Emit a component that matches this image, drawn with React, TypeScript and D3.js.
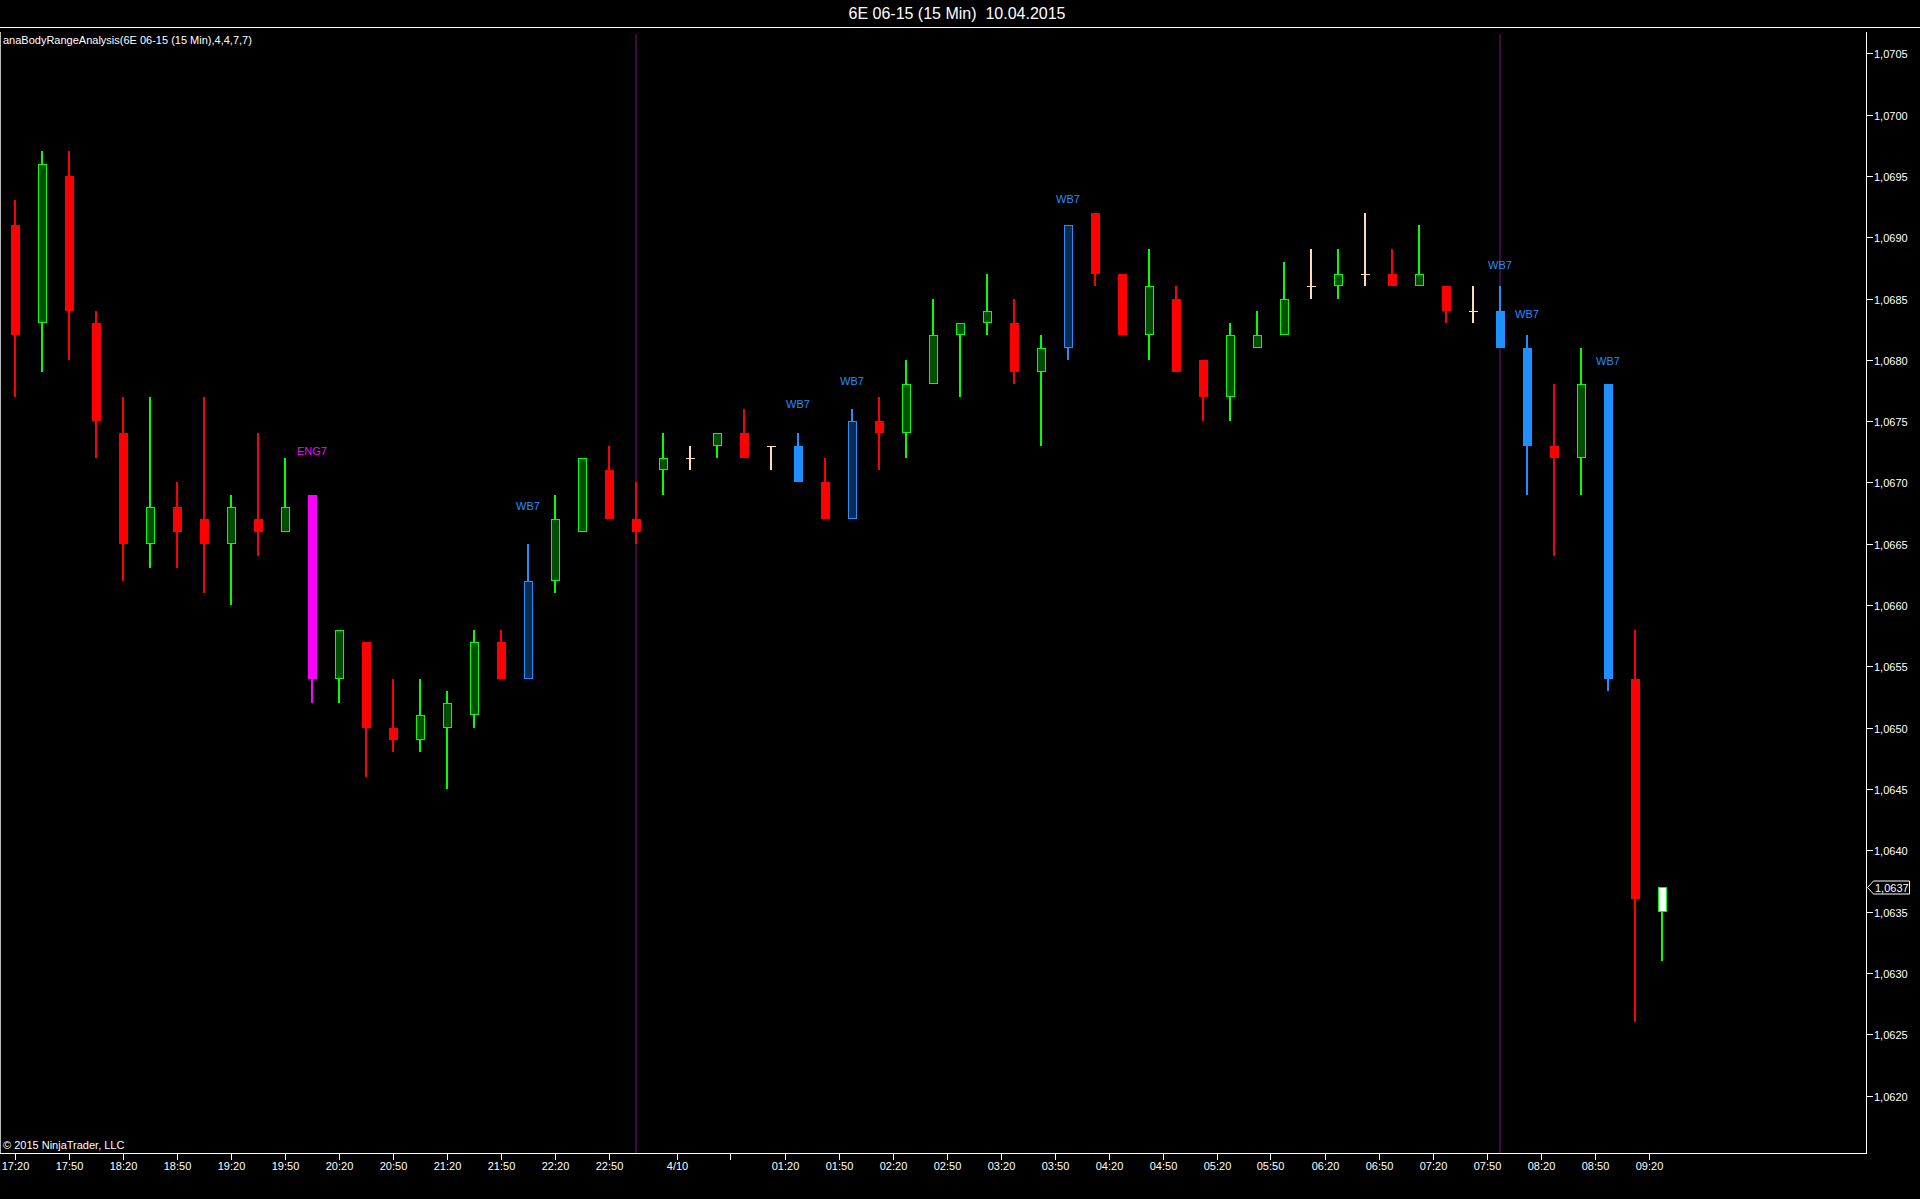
import React from 'react';
import * as d3 from 'd3';

// ---- data ----
const opens = [
  1.0691, 1.0683, 1.0695, 1.0683, 1.0674, 1.0665, 1.0668, 1.0667, 1.0665, 1.0667,
  1.0666, 1.0669, 1.0654, 1.0657, 1.0650, 1.0649, 1.0650, 1.0651, 1.0657, 1.0654,
  1.0662, 1.0666, 1.0671, 1.0667, 1.0671, 1.0672, 1.0673, 1.0674, 1.0673, 1.0673,
  1.0670, 1.0667, 1.0675, 1.0674, 1.0678, 1.0682, 1.0683, 1.0683, 1.0679, 1.0681,
  1.0692, 1.0687, 1.0682, 1.0685, 1.0680, 1.0677, 1.0681, 1.0682, 1.0686, 1.0686,
  1.0687, 1.0687, 1.0686, 1.0686, 1.0684, 1.0684, 1.0681, 1.0673, 1.0672, 1.0678,
  1.0654, 1.0635,
];
const highs = [
  1.0693, 1.0697, 1.0697, 1.0684, 1.0677, 1.0677, 1.0670, 1.0677, 1.0669, 1.0674,
  1.0672, 1.0669, 1.0658, 1.0657, 1.0654, 1.0654, 1.0653, 1.0658, 1.0658, 1.0665,
  1.0669, 1.0672, 1.0673, 1.0670, 1.0674, 1.0673, 1.0674, 1.0676, 1.0673, 1.0674,
  1.0672, 1.0676, 1.0677, 1.0680, 1.0685, 1.0683, 1.0687, 1.0685, 1.0682, 1.0691,
  1.0692, 1.0687, 1.0689, 1.0686, 1.0680, 1.0683, 1.0684, 1.0688, 1.0689, 1.0689,
  1.0692, 1.0689, 1.0691, 1.0686, 1.0686, 1.0686, 1.0682, 1.0678, 1.0681, 1.0678,
  1.0658, 1.0637,
];
const lows = [
  1.0677, 1.0679, 1.0680, 1.0672, 1.0662, 1.0663, 1.0663, 1.0661, 1.0660, 1.0664,
  1.0666, 1.0652, 1.0652, 1.0646, 1.0648, 1.0648, 1.0645, 1.0650, 1.0654, 1.0654,
  1.0661, 1.0666, 1.0667, 1.0665, 1.0669, 1.0671, 1.0672, 1.0672, 1.0671, 1.0670,
  1.0667, 1.0667, 1.0671, 1.0672, 1.0678, 1.0677, 1.0682, 1.0678, 1.0673, 1.0680,
  1.0686, 1.0682, 1.0680, 1.0679, 1.0675, 1.0675, 1.0681, 1.0682, 1.0685, 1.0685,
  1.0686, 1.0686, 1.0686, 1.0683, 1.0683, 1.0681, 1.0669, 1.0664, 1.0669, 1.0653,
  1.0626, 1.0631,
];
const closes = [
  1.0682, 1.0696, 1.0684, 1.0675, 1.0665, 1.0668, 1.0666, 1.0665, 1.0668, 1.0666,
  1.0668, 1.0654, 1.0658, 1.0650, 1.0649, 1.0651, 1.0652, 1.0657, 1.0654, 1.0662,
  1.0667, 1.0672, 1.0667, 1.0666, 1.0672, 1.0672, 1.0674, 1.0672, 1.0673, 1.0670,
  1.0667, 1.0675, 1.0674, 1.0678, 1.0682, 1.0683, 1.0684, 1.0679, 1.0681, 1.0691,
  1.0687, 1.0682, 1.0686, 1.0679, 1.0677, 1.0682, 1.0682, 1.0685, 1.0686, 1.0687,
  1.0687, 1.0686, 1.0687, 1.0684, 1.0684, 1.0681, 1.0673, 1.0672, 1.0678, 1.0654,
  1.0636, 1.0637,
];

const wbBars = [19, 29, 31, 39, 55, 56, 59];
const engBars = [11];
const sessionBreakBars = [23, 55];

const signalBars = [11, 19, 29, 31, 39, 55, 56, 59];
const signalTexts = ['ENG7', 'WB7', 'WB7', 'WB7', 'WB7', 'WB7', 'WB7', 'WB7'];
const signalPrices = [1.06726, 1.06681, 1.06764, 1.06783, 1.06931, 1.06877, 1.06837, 1.06799];

const xTickLabels = [
  '17:20', '17:50', '18:20', '18:50', '19:20', '19:50', '20:20', '20:50', '21:20', '21:50', '22:20', '22:50',
  '4/10', '',
  '01:20', '01:50', '02:20', '02:50', '03:20', '03:50', '04:20', '04:50', '05:20', '05:50',
  '06:20', '06:50', '07:20', '07:50', '08:20', '08:50', '09:20',
];
const xTickBars = [
  0, 2, 4, 6, 8, 10, 12, 14, 16, 18, 20, 22,
  24.5, 26.5,
  28.5, 30.5, 32.5, 34.5, 36.5, 38.5, 40.5, 42.5, 44.5, 46.5,
  48.5, 50.5, 52.5, 54.5, 56.5, 58.5, 60.5,
];
const yTickValues = d3.range(0, 18).map((k) => +(1.062 + k * 0.0005).toFixed(4));
const lastPrice = 1.0637;

const title = '6E 06-15 (15 Min)  10.04.2015';
const indicatorLabel = 'anaBodyRangeAnalysis(6E 06-15 (15 Min),4,4,7,7)';
const copyright = '\u00A9 2015 NinjaTrader, LLC';

// ---- layout ----
const W = 1920;
const H = 1199;
const axisX = 1866;
const bottomY = 1153;
const plotTop = 32;
const FONT = '"Liberation Sans", Arial, sans-serif';

const COL = {
  upFill: '#004f00',
  up: '#00ff00',
  down: '#ff0000',
  doji: '#ffdcb8',
  wb: '#1e90ff',
  wbHollow: '#0b2b4f',
  eng: '#ff00ff',
  session: '#3e0a3e',
};

export default function App() {
  const x = d3.scaleLinear().domain([0, 61]).range([15, 1662]);
  const y = d3.scaleLinear().domain([1.062, 1.0705]).range([1095.6, 53.3]);
  const fmt = (v: number) => d3.format('.4f')(v).replace('.', ',');

  const candles = opens.map((o, i) => {
    const c = closes[i];
    const h = highs[i];
    const l = lows[i];
    const xc = Math.round(x(i));
    const up = c > o;
    const isDoji = c === o;
    const isWB = wbBars.includes(i);
    const isEng = engBars.includes(i);
    const isLast = i === opens.length - 1;
    let wickColor = up ? COL.up : COL.down;
    let fill = up ? COL.upFill : COL.down;
    let stroke: string | null = up ? COL.up : null;
    if (isDoji) {
      wickColor = COL.doji;
    }
    if (isWB) {
      wickColor = COL.wb;
      fill = up ? COL.wbHollow : COL.wb;
      stroke = up ? COL.wb : null;
    }
    if (isEng) {
      wickColor = COL.eng;
      fill = COL.eng;
      stroke = null;
    }
    if (isLast) {
      fill = '#ffffff';
      stroke = COL.up;
      wickColor = COL.up;
    }
    const yTop = Math.round(y(Math.max(o, c)));
    const yBot = Math.round(y(Math.min(o, c)));
    const yH = Math.round(y(h));
    const yL = Math.round(y(l));
    return (
      <g key={i}>
        <rect x={xc - 1} y={yH} width={2} height={Math.max(1, yL - yH)} fill={wickColor} />
        {isDoji ? (
          <rect x={xc - 4} y={yTop} width={9} height={1} fill={COL.doji} />
        ) : stroke ? (
          <rect
            x={xc - 4 + 0.5}
            y={yTop + 0.5}
            width={8}
            height={Math.max(1, yBot - yTop - 1)}
            fill={fill}
            stroke={stroke}
            strokeWidth={1}
          />
        ) : (
          <rect x={xc - 4} y={yTop} width={9} height={Math.max(1, yBot - yTop)} fill={fill} />
        )}
      </g>
    );
  });

  const markerY = Math.round(y(lastPrice)) + 0.5;

  return (
    <div style={{ position: 'absolute', left: 0, top: 0, width: W, height: H, background: '#000' }}>
      <svg width={W} height={H} style={{ display: 'block' }} fontFamily={FONT}>
        <rect x={0} y={0} width={W} height={H} fill="#000" />
        {/* title */}
        <text x={957} y={19} fill="#fff" fontSize={16} textAnchor="middle" style={{ whiteSpace: 'pre' }}>
          {title}
        </text>
        <line x1={0} x2={W} y1={27.5} y2={27.5} stroke="#fff" strokeWidth={1} />

        {/* session breaks */}
        {sessionBreakBars.map((b) => (
          <rect key={b} x={Math.round(x(b)) - 1} y={34} width={2} height={bottomY - 34} fill={COL.session} />
        ))}

        {/* frame */}
        <line x1={0.5} x2={0.5} y1={plotTop} y2={bottomY} stroke="#bbb" strokeWidth={1} />
        <line x1={axisX + 0.5} x2={axisX + 0.5} y1={plotTop} y2={bottomY + 0.5} stroke="#fff" strokeWidth={1} />
        <line x1={0} x2={axisX + 1} y1={bottomY + 0.5} y2={bottomY + 0.5} stroke="#fff" strokeWidth={1} />

        {/* indicator label */}
        <text x={3} y={44} fill="#fff" fontSize={11}>
          {indicatorLabel}
        </text>

        {/* candles */}
        {candles}

        {/* signal labels */}
        {signalBars.map((b, k) => (
          <text
            key={'s' + k}
            x={x(b)}
            y={y(signalPrices[k]) + 4}
            fill={signalTexts[k] === 'ENG7' ? COL.eng : COL.wb}
            fontSize={11}
            textAnchor="middle"
          >
            {signalTexts[k]}
          </text>
        ))}

        {/* y axis */}
        {yTickValues.map((v) => {
          const yy = Math.round(y(v)) + 0.5;
          return (
            <g key={'y' + v}>
              <line x1={axisX + 1} x2={axisX + 7} y1={yy} y2={yy} stroke="#fff" strokeWidth={1} />
              <text x={axisX + 8} y={yy + 4} fill="#fff" fontSize={11}>
                {fmt(v)}
              </text>
            </g>
          );
        })}

        {/* last price marker */}
        <path
          d={`M${axisX + 7.5},${markerY - 6.5} L${axisX + 1.5},${markerY} L${axisX + 7.5},${markerY + 6.5} L${axisX + 43.5},${markerY + 6.5} L${axisX + 43.5},${markerY - 6.5} Z`}
          fill="#000"
          stroke="#fff"
          strokeWidth={1}
        />
        <text x={axisX + 9} y={markerY + 4} fill="#fff" fontSize={11}>
          {fmt(lastPrice)}
        </text>

        {/* x axis */}
        {xTickBars.map((b, k) => {
          const xx = Math.round(x(b)) + 0.5;
          return (
            <g key={'x' + k}>
              <line x1={xx} x2={xx} y1={bottomY + 1} y2={bottomY + 7} stroke="#fff" strokeWidth={1} />
              {xTickLabels[k] && (
                <text x={xx} y={1170} fill="#fff" fontSize={11} textAnchor="middle">
                  {xTickLabels[k]}
                </text>
              )}
            </g>
          );
        })}

        <text x={3} y={1149} fill="#fff" fontSize={11}>
          {copyright}
        </text>
      </svg>
    </div>
  );
}
